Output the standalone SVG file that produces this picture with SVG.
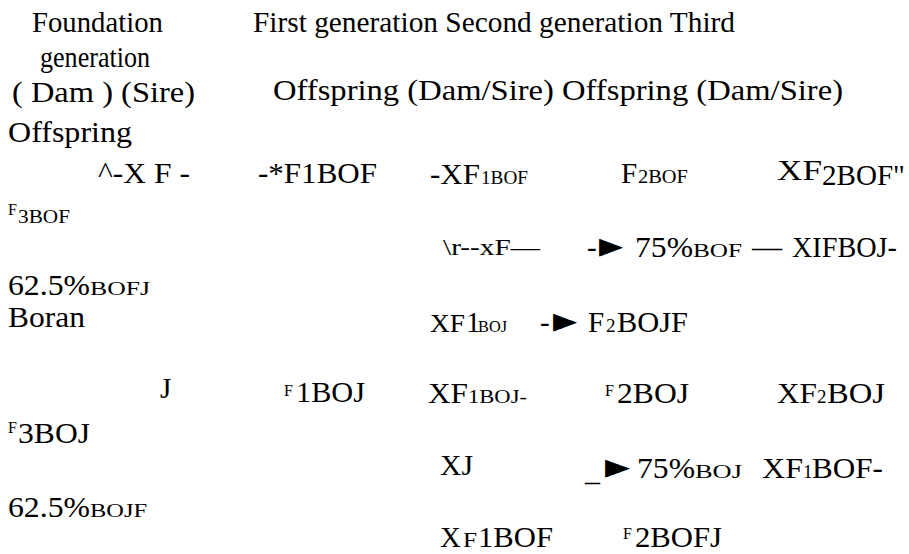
<svg xmlns="http://www.w3.org/2000/svg" width="909" height="554" viewBox="0 0 909 554">
<style>
text{font-family:"Liberation Serif","Times New Roman",serif;fill:#000}
.L{font-size:29px}
.M{font-size:25px}
.S{font-size:19px}
.T{font-size:16px}
.A{font-family:"DejaVu Sans",sans-serif;font-size:36px}
</style>
<rect width="909" height="554" fill="#fff"/>
<g id="header">
<text class="L" x="32" y="32" textLength="131" lengthAdjust="spacingAndGlyphs">Foundation</text>
<text class="L" x="253" y="32" textLength="482" lengthAdjust="spacingAndGlyphs">First generation Second generation Third</text>
<text class="L" x="40" y="67" textLength="110" lengthAdjust="spacingAndGlyphs">generation</text>
<text class="L" x="12" y="102" textLength="183" lengthAdjust="spacingAndGlyphs">( Dam ) (Sire)</text>
<text class="L" x="273" y="100" textLength="570" lengthAdjust="spacingAndGlyphs">Offspring (Dam/Sire) Offspring (Dam/Sire)</text>
<text class="L" x="8" y="142" textLength="124" lengthAdjust="spacingAndGlyphs">Offspring</text>
</g>
<g id="row-bof">
<text class="L" x="98" y="183" textLength="92" lengthAdjust="spacingAndGlyphs">^-X F -</text>
<text class="L" x="258" y="183" textLength="119" lengthAdjust="spacingAndGlyphs">-*F1BOF</text>
<g id="xf1bof"><text class="L" x="430" y="184" textLength="50" lengthAdjust="spacingAndGlyphs">-XF</text><text class="S" x="481" y="184" textLength="47" lengthAdjust="spacingAndGlyphs">1BOF</text></g>
<g id="f2bof"><text class="L" x="621" y="183">F</text><text class="S" x="638" y="183" textLength="50" lengthAdjust="spacingAndGlyphs">2BOF</text></g>
<g id="xf2bof"><text class="L" x="777" y="180" textLength="45" lengthAdjust="spacingAndGlyphs">XF</text><text class="L" x="822" y="185" textLength="83" lengthAdjust="spacingAndGlyphs">2BOF"</text></g>
<g id="f3bof"><text class="T" x="8" y="215">F</text><text class="S" x="18" y="223" textLength="52" lengthAdjust="spacingAndGlyphs">3BOF</text></g>
</g>
<g id="row-75bof">
<text x="443" y="255" font-size="24" textLength="97" lengthAdjust="spacingAndGlyphs">\r--xF—</text>
<text class="L" x="587" y="257">-</text>
<text class="A" x="599" y="257" textLength="24" lengthAdjust="spacingAndGlyphs">►</text>
<g id="p75bof"><text class="L" x="635" y="257" textLength="58" lengthAdjust="spacingAndGlyphs">75%</text><text class="S" x="693" y="257" textLength="49" lengthAdjust="spacingAndGlyphs">BOF</text></g>
<text class="L" x="752" y="257" textLength="30" lengthAdjust="spacingAndGlyphs">—</text>
<text class="L" x="792" y="257" textLength="105" lengthAdjust="spacingAndGlyphs">XIFBOJ-</text>
</g>
<g id="p625bofj"><text class="L" x="8" y="295" textLength="82" lengthAdjust="spacingAndGlyphs">62.5%</text><text class="S" x="90" y="295" textLength="60" lengthAdjust="spacingAndGlyphs">BOFJ</text></g>
<g id="boran"><text class="L" x="8" y="327" textLength="77" lengthAdjust="spacingAndGlyphs">Boran</text></g>
<g id="row-f2bojf">
<g id="xf1boj-a"><text class="M" x="430" y="332" textLength="35" lengthAdjust="spacingAndGlyphs">XF</text><text class="L" x="466" y="332">1</text><text x="478" y="332" font-size="16" textLength="29" lengthAdjust="spacingAndGlyphs">BOJ</text></g>
<text class="L" x="540" y="332">-</text>
<text class="A" x="553" y="332" textLength="24" lengthAdjust="spacingAndGlyphs">►</text>
<g id="f2bojf"><text class="L" x="588" y="332">F</text><text class="S" x="606" y="332">2</text><text class="L" x="617" y="332" textLength="71" lengthAdjust="spacingAndGlyphs">BOJF</text></g>
</g>
<g id="row-boj">
<text class="L" x="160" y="398">J</text>
<g id="f1boj"><text class="T" x="284" y="396">F</text><text class="L" x="296" y="402" textLength="69" lengthAdjust="spacingAndGlyphs">1BOJ</text></g>
<g id="xf1boj-b"><text class="L" x="428" y="403" textLength="40" lengthAdjust="spacingAndGlyphs">XF</text><text class="S" x="468" y="403" textLength="59" lengthAdjust="spacingAndGlyphs">1BOJ-</text></g>
<g id="f2boj"><text class="T" x="605" y="396">F</text><text class="L" x="617" y="403" textLength="72" lengthAdjust="spacingAndGlyphs">2BOJ</text></g>
<g id="xf2boj"><text class="L" x="777" y="403" textLength="40" lengthAdjust="spacingAndGlyphs">XF</text><text class="S" x="817" y="403">2</text><text class="L" x="827" y="403" textLength="58" lengthAdjust="spacingAndGlyphs">BOJ</text></g>
</g>
<g id="f3boj"><text class="T" x="8" y="433">F</text><text class="L" x="18" y="443" textLength="72" lengthAdjust="spacingAndGlyphs">3BOJ</text></g>
<g id="row-75boj">
<text class="L" x="440" y="475" textLength="33" lengthAdjust="spacingAndGlyphs">XJ</text>
<text class="L" x="585" y="481" textLength="15" lengthAdjust="spacingAndGlyphs">_</text>
<text class="A" x="605" y="478" textLength="25" lengthAdjust="spacingAndGlyphs">►</text>
<g id="p75boj"><text class="L" x="637" y="478" textLength="58" lengthAdjust="spacingAndGlyphs">75%</text><text class="S" x="695" y="478" textLength="47" lengthAdjust="spacingAndGlyphs">BOJ</text></g>
<g id="xf1bof-b"><text class="L" x="762" y="478" textLength="41" lengthAdjust="spacingAndGlyphs">XF</text><text class="S" x="803" y="478">1</text><text class="L" x="812" y="478" textLength="71" lengthAdjust="spacingAndGlyphs">BOF-</text></g>
</g>
<g id="p625bojf"><text class="L" x="8" y="517" textLength="82" lengthAdjust="spacingAndGlyphs">62.5%</text><text class="S" x="90" y="517" textLength="57" lengthAdjust="spacingAndGlyphs">BOJF</text></g>
<g id="row-last">
<g id="xf1bof-c"><text class="L" x="440" y="547">X</text><text x="463" y="547" font-size="21" textLength="14" lengthAdjust="spacingAndGlyphs">F</text><text class="L" x="478" y="547" textLength="75" lengthAdjust="spacingAndGlyphs">1BOF</text></g>
<g id="f2bofj"><text class="T" x="623" y="539">F</text><text class="L" x="635" y="547" textLength="87" lengthAdjust="spacingAndGlyphs">2BOFJ</text></g>
</g>
</svg>
